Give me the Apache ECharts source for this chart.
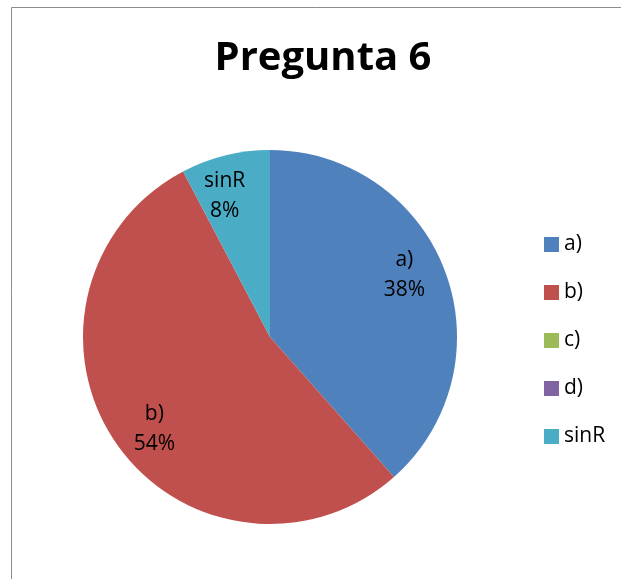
<!DOCTYPE html>
<html>
<head>
<meta charset="utf-8">
<script src="https://cdn.jsdelivr.net/npm/echarts@6/dist/echarts.min.js"></script>
<style>
  html, body { margin: 0; padding: 0; background: #fff; }
  #box { width: 621px; height: 579px; }
</style>
</head>
<body>
<div id="box"></div>
<script>
// respuestas de la pregunta 6
var categories = ['a)', 'b)', 'c)', 'd)', 'sinR'];
var counts = [5, 7, 0, 0, 1];
var colors = ['#4F81BD', '#C0504D', '#9BBB59', '#8064A2', '#4BACC6'];

var chartDom = document.getElementById('box');
var myChart = echarts.init(chartDom);
var font = '"Open Sans", "Liberation Sans", sans-serif';

var pieData = categories.map(function (name, i) {
  return { name: name, value: counts[i] };
});

var option = {
  color: colors,
  animation: false,
  title: {
    text: 'Pregunta 6',
    left: 318,
    top: 34,
    textAlign: 'center',
    textStyle: { fontFamily: font, fontSize: 40, fontWeight: 'bold', color: '#000' }
  },
  legend: {
    orient: 'vertical',
    left: 539,
    top: 229,
    itemWidth: 15,
    itemHeight: 15,
    itemGap: 27,
    icon: 'rect',
    data: categories,
    textStyle: { fontFamily: font, fontSize: 21, lineHeight: 21, color: '#000' }
  },
  graphic: [{
    type: 'polyline',
    silent: true,
    shape: { points: [[11.5, 579], [11.5, 7.5], [621, 7.5]] },
    style: { stroke: '#8c8c8c', lineWidth: 1, fill: null }
  }],
  series: [
    {
      name: 'Pregunta 6',
      type: 'pie',
      center: [270, 337],
      radius: [0, 187],
      startAngle: 90,
      avoidLabelOverlap: false,
      label: { show: false },
      labelLine: { show: false },
      itemStyle: { borderWidth: 0 },
      emphasis: { scale: false },
      data: pieData
    },
    {
      // solo para colocar las etiquetas dentro de las porciones
      name: 'etiquetas',
      type: 'pie',
      center: [270, 337],
      radius: [103, 187],
      startAngle: 94,
      silent: true,
      avoidLabelOverlap: false,
      itemStyle: { color: 'rgba(0,0,0,0)', borderWidth: 0 },
      labelLine: { show: false },
      label: {
        show: true,
        position: 'inside',
        fontFamily: font,
        fontSize: 21,
        lineHeight: 30,
        color: '#000',
        formatter: function (p) {
          return p.value ? p.name + '\n' + Math.round(p.percent) + '%' : '';
        }
      },
      data: pieData
    }
  ]
};
option && myChart.setOption(option);
</script>
</body>
</html>
